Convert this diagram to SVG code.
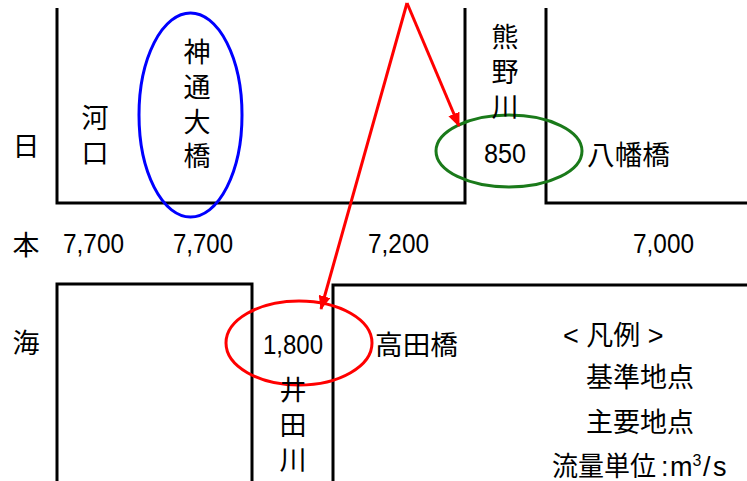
<svg xmlns="http://www.w3.org/2000/svg" width="747" height="481" viewBox="0 0 747 481">
<style>
.bank{fill:none;stroke:#000;stroke-width:3}
.t{font-family:"Liberation Sans","Noto Sans CJK JP",sans-serif;font-size:27px;fill:#000}
.n{font-family:"Liberation Sans","Noto Sans CJK JP",sans-serif;font-size:28px;fill:#000}
.m{text-anchor:middle}
.arrow{fill:none;stroke:#ff0000;stroke-width:3}
</style>
<defs>
<marker id="ah" viewBox="0 0 14 12" refX="13" refY="6" markerWidth="14" markerHeight="12" orient="auto" markerUnits="userSpaceOnUse">
<path d="M0,0 L14,6 L0,12 z" fill="#ff0000"/>
</marker>
</defs>
<rect width="747" height="481" fill="#fff"/>
<g id="banks">
<path class="bank" d="M57,8 V203 H465 V8"/>
<path class="bank" d="M546,8 V203 H747"/>
<path class="bank" d="M57,481 V284 H252 V481"/>
<path class="bank" d="M333,481 V285 H747"/>
</g>
<g id="sea-label">
<text class="t m" x="26" y="156">日</text>
<text class="t m" x="26" y="255">本</text>
<text class="t m" x="26" y="353">海</text>
</g>
<g id="kakou">
<text class="t m" x="95" y="128">河</text>
<text class="t m" x="95" y="163">口</text>
<text class="n" x="63" y="253" textLength="61" lengthAdjust="spacingAndGlyphs">7,700</text>
</g>
<g id="jintsu-ohashi">
<ellipse cx="190.5" cy="115" rx="51.5" ry="102" fill="none" stroke="#0000ff" stroke-width="3"/>
<text class="t m" x="197" y="62">神</text>
<text class="t m" x="197" y="97">通</text>
<text class="t m" x="197" y="132">大</text>
<text class="t m" x="197" y="166">橋</text>
<text class="n" x="173" y="253" textLength="60" lengthAdjust="spacingAndGlyphs">7,700</text>
</g>
<g id="takada-bashi">
<ellipse cx="299" cy="343" rx="73" ry="42" fill="none" stroke="#ff0000" stroke-width="3"/>
<text class="n" x="263" y="354" textLength="60" lengthAdjust="spacingAndGlyphs">1,800</text>
<text class="t" x="375" y="355" textLength="83" lengthAdjust="spacingAndGlyphs">高田橋</text>
<text class="n" x="368" y="253" textLength="61" lengthAdjust="spacingAndGlyphs">7,200</text>
</g>
<g id="ida-gawa">
<text class="t m" x="293" y="400">井</text>
<text class="t m" x="293" y="435">田</text>
<text class="t m" x="293" y="470">川</text>
</g>
<g id="yawata-bashi">
<ellipse cx="509" cy="151" rx="73" ry="36" fill="none" stroke="#1a7a1a" stroke-width="3"/>
<text class="n" x="484" y="163" textLength="42" lengthAdjust="spacingAndGlyphs">850</text>
<text class="t" x="587" y="165" textLength="83" lengthAdjust="spacingAndGlyphs">八幡橋</text>
<text class="n" x="633" y="253" textLength="61" lengthAdjust="spacingAndGlyphs">7,000</text>
</g>
<g id="kumano-gawa">
<text class="t m" x="505" y="47">熊</text>
<text class="t m" x="505" y="82">野</text>
<text class="t m" x="505" y="117">川</text>
</g>
<g id="legend">
<text class="t" x="563" y="345">&lt; 凡例 &gt;</text>
<text class="t" x="586" y="387">基準地点</text>
<text class="t" x="586" y="432">主要地点</text>
<text class="t" x="552" y="476"><tspan textLength="104" lengthAdjust="spacingAndGlyphs">流量単位</tspan><tspan x="661">:</tspan><tspan x="670">m</tspan><tspan dy="-10" font-size="16">3</tspan><tspan dy="10" x="703">/</tspan><tspan x="713">s</tspan></text>
</g>
<g id="connectors">
<line class="arrow" x1="407" y1="3" x2="459" y2="126" marker-end="url(#ah)"/>
<line class="arrow" x1="407" y1="3" x2="321" y2="309" marker-end="url(#ah)"/>
</g>
</svg>
